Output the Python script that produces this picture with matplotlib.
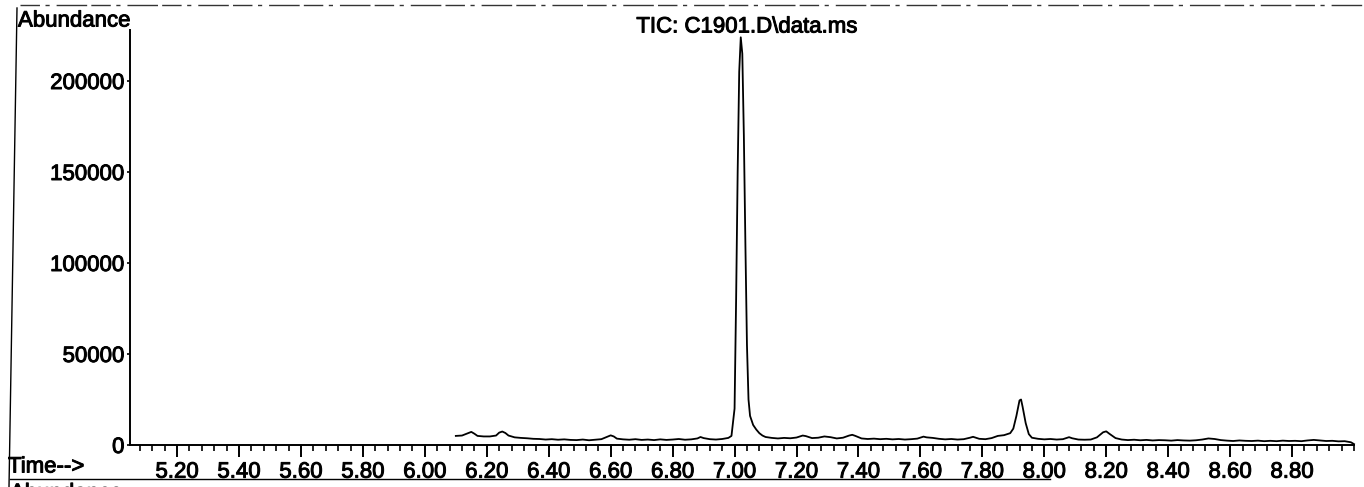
import matplotlib
matplotlib.use("Agg")
import matplotlib.pyplot as plt
from matplotlib.lines import Line2D
from matplotlib.ticker import FixedLocator, FuncFormatter
import matplotlib.patheffects as pe

# ---- data (read from the scanned TIC) ----
time_min = [6.10, 6.12, 6.14, 6.15, 6.16, 6.17, 6.19, 6.21, 6.23, 6.24, 6.25, 6.26, 6.27, 6.29,
            6.31, 6.33, 6.35, 6.37, 6.39, 6.41, 6.43, 6.45, 6.47, 6.49, 6.51, 6.53, 6.55, 6.57,
            6.59, 6.60, 6.61, 6.62, 6.64, 6.66, 6.68, 6.70, 6.72, 6.74, 6.76, 6.78, 6.80, 6.82,
            6.84, 6.86, 6.88, 6.89, 6.90, 6.92, 6.94, 6.96, 6.98, 6.99, 7.00, 7.005, 7.01, 7.015,
            7.02, 7.025, 7.03, 7.035, 7.04, 7.045, 7.05, 7.06, 7.07, 7.08, 7.09, 7.10, 7.12, 7.14,
            7.16, 7.18, 7.20, 7.22, 7.23, 7.25, 7.27, 7.29, 7.31, 7.33, 7.35, 7.37, 7.38, 7.39,
            7.41, 7.43, 7.45, 7.47, 7.49, 7.51, 7.53, 7.55, 7.57, 7.59, 7.61, 7.62, 7.64, 7.66,
            7.68, 7.70, 7.72, 7.74, 7.76, 7.77, 7.79, 7.81, 7.83, 7.85, 7.87, 7.89, 7.90, 7.91,
            7.92, 7.925, 7.93, 7.94, 7.95, 7.96, 7.98, 8.00, 8.02, 8.04, 8.06, 8.08, 8.09, 8.11,
            8.13, 8.15, 8.17, 8.19, 8.20, 8.21, 8.23, 8.25, 8.27, 8.29, 8.31, 8.33, 8.35, 8.37,
            8.39, 8.41, 8.43, 8.45, 8.47, 8.49, 8.51, 8.53, 8.55, 8.57, 8.59, 8.61, 8.63, 8.65,
            8.67, 8.69, 8.71, 8.73, 8.75, 8.77, 8.79, 8.81, 8.83, 8.85, 8.87, 8.89, 8.91, 8.93,
            8.95, 8.97, 8.99, 9.00]
abundance = [5000, 5200, 6500, 7200, 6200, 5000, 4700, 4700, 5200, 6800, 7400, 6600, 5200, 4200,
             3900, 3700, 3400, 3300, 3000, 3200, 2900, 3100, 2800, 2700, 3000, 2600, 2900, 3200,
             4600, 5300, 4700, 3500, 3100, 2900, 3200, 2800, 3000, 2700, 3100, 2800, 3000, 3300,
             2900, 3100, 3600, 4400, 3800, 3200, 3000, 3300, 3900, 5000, 20000, 80000, 150000, 205000,
             224000, 215000, 170000, 110000, 55000, 25000, 16000, 11000, 8500, 6500, 5200, 4400, 3900, 3600,
             3900, 3700, 4100, 5200, 4900, 3800, 4000, 4700, 4300, 3600, 4000, 5200, 5600, 5000,
             3600, 3300, 3500, 3200, 3400, 3100, 3300, 3000, 3200, 3500, 4600, 4200, 3900, 3400,
             3100, 3300, 3000, 3200, 4000, 4500, 3400, 3200, 3800, 5000, 5400, 6500, 9000, 16000,
             24500, 25000, 21000, 12000, 6000, 4000, 3400, 3100, 3300, 3000, 3200, 4300, 3700, 3000,
             2900, 3000, 4200, 7000, 7500, 6200, 3800, 3000, 2700, 2900, 2600, 2800, 2500, 2700,
             2600, 2400, 2700, 2500, 2400, 2600, 3000, 3600, 3300, 2700, 2400, 2200, 2500, 2300,
             2200, 2400, 2100, 2300, 2100, 2400, 2200, 2300, 2100, 2500, 2800, 2500, 2200, 2300,
             2000, 2100, 1500, 500]

x_major = [5.20, 5.40, 5.60, 5.80, 6.00, 6.20, 6.40, 6.60, 6.80, 7.00, 7.20, 7.40, 7.60,
           7.80, 8.00, 8.20, 8.40, 8.60, 8.80]
y_major = [0, 50000, 100000, 150000, 200000]
title_text = "TIC: C1901.D\\data.ms"
ylabel_text = "Abundance"
xlabel_text = "Time-->"

# ---- figure ----
W, H = 1364, 487
fig = plt.figure(figsize=(W / 100, H / 100), dpi=100)
plt.rcParams['font.family'] = ['Liberation Sans', 'DejaVu Sans']
FS = 16
thick = [pe.withStroke(linewidth=0.7, foreground='black')]

def fx(px):
    return px / W

def fy(py):
    return 1 - py / H

ax_left, ax_right, ax_bottom, ax_top = 130, 1354, 445, 30
ax = fig.add_axes([fx(ax_left), fy(ax_bottom), fx(ax_right - ax_left), (ax_bottom - ax_top) / H])
ax.plot(time_min, abundance, color='black', lw=1.3, clip_on=False)

ax.set_xlim(5.048, 9.00)
ax.set_ylim(0, (ax_bottom - ax_top) / 91.0 * 50000)

for s in ['top', 'right']:
    ax.spines[s].set_visible(False)
for s in ['left', 'bottom']:
    ax.spines[s].set_linewidth(1.4)
    ax.spines[s].set_color('black')

ax.xaxis.set_major_locator(FixedLocator(x_major))
minor = [round(5.04 + 0.04 * i, 2) for i in range(0, 100) if 5.04 + 0.04 * i <= 9.001]
ax.xaxis.set_minor_locator(FixedLocator(minor))
ax.xaxis.set_major_formatter(FuncFormatter(lambda v, p: f"{v:.2f}"))
ax.tick_params(axis='x', which='major', direction='out', length=8.5, width=1.4,
               labelsize=FS, pad=3.5, colors='black')
ax.tick_params(axis='x', which='minor', direction='out', length=4.5, width=1.2)

ax.yaxis.set_major_locator(FixedLocator(y_major))
ax.yaxis.set_major_formatter(FuncFormatter(lambda v, p: f"{int(v)}"))
ax.tick_params(axis='y', which='major', direction='out', length=2.5, width=1.2,
               labelsize=FS, pad=1.5, colors='black')
for lab in ax.get_xticklabels() + ax.get_yticklabels():
    lab.set_path_effects(thick)

# ---- texts ----
fig.text(fx(747), fy(27), title_text, ha='center', va='center', fontsize=FS, path_effects=thick)
fig.text(fx(18), fy(21), ylabel_text, ha='left', va='center', fontsize=FS, path_effects=thick)
fig.text(fx(8), fy(467), xlabel_text, ha='left', va='center', fontsize=FS, path_effects=thick)
fig.text(fx(10), fy(483), ylabel_text, ha='left', va='top', fontsize=FS, path_effects=thick)

# ---- scanned frame lines ----
fig.add_artist(Line2D([fx(17), fx(9)], [fy(8), fy(487)], transform=fig.transFigure,
                      color='black', lw=1.0))
fig.add_artist(Line2D([fx(20), fx(1364)], [fy(5), fy(5)], transform=fig.transFigure,
                      color='#333333', lw=1.0, linestyle=(0, (14, 4, 3, 5, 22, 3))))
fig.add_artist(Line2D([fx(10), fx(1050)], [fy(479), fy(479)], transform=fig.transFigure,
                      color='black', lw=1.0))

fig.savefig("out.png", dpi=100)
